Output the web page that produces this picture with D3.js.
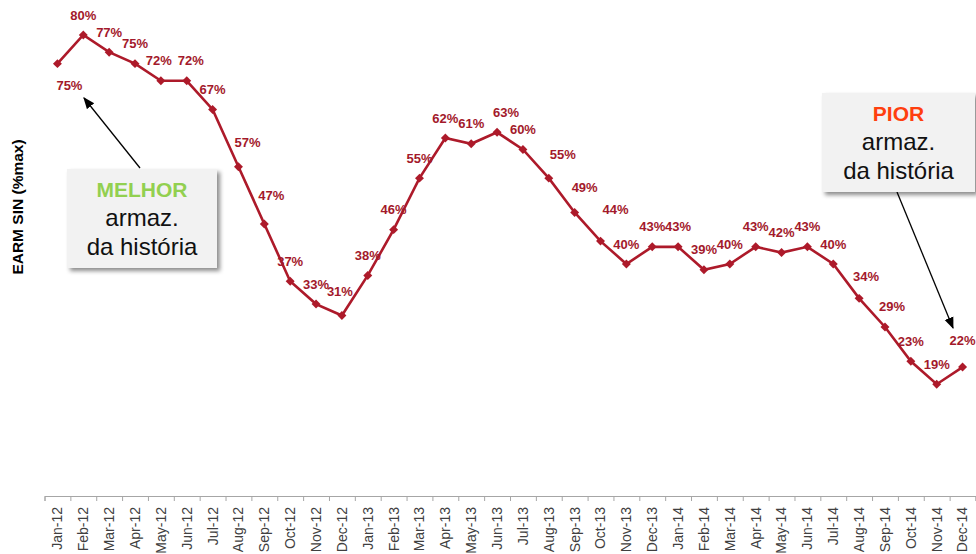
<!DOCTYPE html>
<html>
<head>
<meta charset="utf-8">
<script src="https://cdn.jsdelivr.net/npm/d3@7/dist/d3.min.js"></script>
<style>
  body { margin: 0; background: #fff; }
  svg { display: block; font-family: "Liberation Sans", Arial, sans-serif; }
</style>
</head>
<body>
<svg id="chart" width="976" height="554"></svg>
<script>
// months on the x axis
var months = ["Jan-12","Feb-12","Mar-12","Apr-12","May-12","Jun-12","Jul-12","Aug-12","Sep-12","Oct-12","Nov-12","Dec-12",
              "Jan-13","Feb-13","Mar-13","Apr-13","May-13","Jun-13","Jul-13","Aug-13","Sep-13","Oct-13","Nov-13","Dec-13",
              "Jan-14","Feb-14","Mar-14","Apr-14","May-14","Jun-14","Jul-14","Aug-14","Sep-14","Oct-14","Nov-14","Dec-14"];

// EARM SIN, % of max storage
var earm = [75, 80, 77, 75, 72, 72, 67, 57, 47, 37, 33, 31,
            38, 46, 55, 62, 61, 63, 60, 55, 49, 44, 40, 43,
            43, 39, 40, 43, 42, 43, 40, 34, 29, 23, 19, 22];

var yTitle = "EARM SIN (%max)";
var bestText = ["MELHOR", "armaz.", "da história"];
var worstText = ["PIOR", "armaz.", "da história"];

// labels that were dragged away from the default "above" spot
var labelNudge = {
    "Jan-12": [12, 42], "May-12": [-2, 0], "Jun-12": [4, 0], "Aug-12": [9, -4], "Sep-12": [7, -8],
    "Dec-12": [-2, -4], "Jun-13": [9, 0], "Aug-13": [14, -4], "Sep-13": [10, -5],
    "Oct-13": [15, -12], "Aug-14": [7, -2], "Sep-14": [7, -1], "Dec-14": [0, -7]
};

var lineColor = "#AD1A2A";
var labelColor = "#A3192B";

var svg = d3.select("#chart");

var defs = svg.append("defs");
var shadow = defs.append("filter").attr("id", "shadow")
    .attr("x", "-10%").attr("y", "-10%").attr("width", "130%").attr("height", "130%");
shadow.append("feDropShadow")
    .attr("dx", 3).attr("dy", 3).attr("stdDeviation", 2)
    .attr("flood-color", "#000").attr("flood-opacity", 0.45);

defs.append("marker").attr("id", "arrow")
    .attr("viewBox", "0 0 10 10").attr("refX", 9).attr("refY", 5)
    .attr("markerWidth", 9).attr("markerHeight", 9).attr("orient", "auto")
  .append("path").attr("d", "M0,1 L10,5 L0,9 Z").attr("fill", "#000");

var x = d3.scaleBand().domain(months).range([44.5, 975.5]).padding(0);
var y = d3.scaleLinear().domain([0, 80]).range([493, 35]);
var cx = function(m) { return x(m) + x.bandwidth() / 2; };

// x axis: line + ticks at category boundaries
var xEdges = d3.scaleLinear().domain([0, months.length]).range(x.range());
svg.append("g")
    .attr("transform", "translate(0,496)")
    .call(d3.axisBottom(xEdges).tickValues(d3.range(months.length + 1))
          .tickSize(5).tickFormat(""))
    .call(function(g) {
        g.selectAll("path, line").attr("stroke", "#A6A6A6");
    });

svg.append("g").selectAll("text")
    .data(months)
  .enter().append("text")
    .attr("transform", function(d) { return "translate(" + cx(d) + ",507) rotate(-90)"; })
    .attr("text-anchor", "end")
    .attr("dy", "0.35em")
    .attr("fill", "#404040")
    .attr("font-size", "14px")
    .text(function(d) { return d; });

// y title
svg.append("text")
    .attr("transform", "translate(18,207) rotate(-90)")
    .attr("text-anchor", "middle")
    .attr("dy", "0.35em")
    .attr("font-size", "15.5px")
    .attr("font-weight", "bold")
    .attr("fill", "#000")
    .text(yTitle);

var data = months.map(function(m, i) { return [m, earm[i]]; });

var line = d3.line()
    .x(function(d) { return cx(d[0]); })
    .y(function(d) { return y(d[1]); });

svg.append("path")
    .datum(data)
    .attr("fill", "none")
    .attr("stroke", lineColor)
    .attr("stroke-width", 2.6)
    .attr("d", line);

// square markers turned 45deg -> diamonds
svg.append("g").selectAll("path")
    .data(data)
  .enter().append("path")
    .attr("d", d3.symbol().type(d3.symbolSquare).size(40))
    .attr("transform", function(d) { return "translate(" + cx(d[0]) + "," + y(d[1]) + ") rotate(45)"; })
    .attr("fill", lineColor);

svg.append("g").selectAll("text")
    .data(data)
  .enter().append("text")
    .attr("x", function(d) { return cx(d[0]) + (labelNudge[d[0]] ? labelNudge[d[0]][0] : 0); })
    .attr("y", function(d) { return y(d[1]) - 20 + (labelNudge[d[0]] ? labelNudge[d[0]][1] : 0); })
    .attr("text-anchor", "middle")
    .attr("dy", "0.35em")
    .attr("font-size", "13px")
    .attr("font-weight", "bold")
    .attr("fill", labelColor)
    .text(function(d) { return d[1] + "%"; });

// callouts
function callout(box, lines, headColor, from, to) {
    svg.append("line")
        .attr("x1", from[0]).attr("y1", from[1])
        .attr("x2", to[0]).attr("y2", to[1])
        .attr("stroke", "#000").attr("stroke-width", 1.3)
        .attr("marker-end", "url(#arrow)");

    svg.append("rect")
        .attr("x", box[0]).attr("y", box[1])
        .attr("width", box[2]).attr("height", box[3])
        .attr("fill", "#F2F2F2")
        .attr("filter", "url(#shadow)");

    var mid = box[0] + box[2] / 2;
    var ys = [box[1] + 21, box[1] + 49, box[1] + 78];
    lines.forEach(function(t, i) {
        svg.append("text")
            .attr("x", mid).attr("y", ys[i])
            .attr("text-anchor", "middle")
            .attr("dy", "0.35em")
            .attr("font-size", i == 0 ? "21px" : "24px")
            .attr("font-weight", i == 0 ? "bold" : "normal")
            .attr("fill", i == 0 ? headColor : "#111")
            .text(t);
    });
}

callout([67, 169, 150, 99], bestText, "#92D050", [140, 168], [84, 98]);
callout([822, 93, 153, 99], worstText, "#FF3F0F", [897, 192], [953, 328]);
</script>
</body>
</html>
